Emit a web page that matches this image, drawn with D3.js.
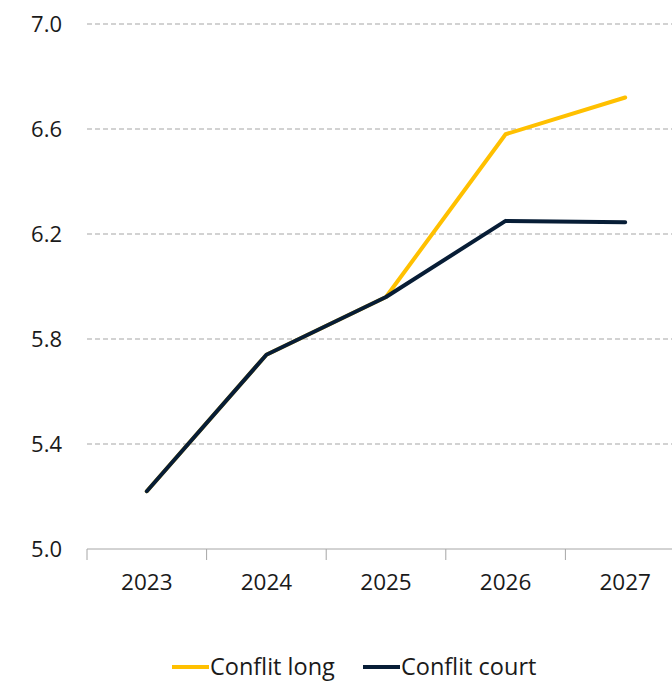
<!DOCTYPE html>
<html>
<head>
<meta charset="utf-8">
<script src="https://cdn.jsdelivr.net/npm/d3@7"></script>
<style>
  html, body { margin: 0; padding: 0; background: #fff; }
  svg text { font-family: "Open Sans", sans-serif; fill: #1a1a1a; }
</style>
</head>
<body>
<div id="canvas"></div>
<script>
"use strict"

let years = ["2023", "2024", "2025", "2026", "2027"]
let conflitLong = [5.22, 5.74, 5.96, 6.58, 6.72]
let conflitCourt = [5.22, 5.74, 5.96, 6.25, 6.245]
let yTicks = [5.0, 5.4, 5.8, 6.2, 6.6, 7.0]
let seriesNames = ["Conflit long", "Conflit court"]
let seriesColors = ["#ffc000", "#071d36"]

let svgWidth = 672
let svgHeight = 681

let margin = { top: 24, left: 87, bottom: 132 }
let plotBottom = svgHeight - margin.bottom

let svg = d3.select("#canvas")
    .append("svg")
    .attr("width", svgWidth)
    .attr("height", svgHeight)

let xScale = d3.scaleBand()
    .domain(years)
    .range([margin.left, margin.left + 5 * 119.6])

let yScale = d3.scaleLinear()
    .domain([5.0, 7.0])
    .range([plotBottom, margin.top])

// gridlines
svg.append("g")
    .selectAll("line")
    .data(yTicks.filter(d => d > 5.0))
    .join("line")
    .attr("x1", margin.left)
    .attr("x2", svgWidth)
    .attr("y1", d => yScale(d))
    .attr("y2", d => yScale(d))
    .attr("stroke", "#a6a6a6")
    .attr("stroke-width", 1.2)
    .attr("stroke-dasharray", "5,3")

// y labels
let yAxis = svg.append("g")
    .attr("transform", `translate(${margin.left},0)`)
    .call(d3.axisLeft(yScale).tickValues(yTicks).tickFormat(d3.format(".1f")).tickSize(0).tickPadding(25))
yAxis.select(".domain").remove()
yAxis.selectAll("text")
    .attr("x", -25)
    .attr("text-anchor", "end")
    .style("font-size", "22px")
    .style("font-family", "'Open Sans', sans-serif")
    .attr("fill", "#1a1a1a")

// x axis
let xAxis = svg.append("g")
    .attr("transform", `translate(0,${plotBottom})`)
    .call(d3.axisBottom(xScale).tickSize(0).tickPadding(25))
xAxis.select(".domain")
    .attr("d", `M${margin.left},0H${svgWidth}`)
    .attr("stroke", "#a6a6a6")
xAxis.selectAll("text")
    .style("font-size", "22.5px")
    .style("font-family", "'Open Sans', sans-serif")
    .attr("fill", "#1a1a1a")

svg.append("g")
    .selectAll("line")
    .data(years)
    .join("line")
    .attr("x1", d => xScale(d))
    .attr("x2", d => xScale(d))
    .attr("y1", plotBottom)
    .attr("y2", plotBottom + 11)
    .attr("stroke", "#a6a6a6")

// lines
let line = d3.line()
    .x((d, i) => xScale(years[i]) + xScale.bandwidth() / 2)
    .y(d => yScale(d))

let series = [conflitLong, conflitCourt]
svg.append("g")
    .selectAll("path")
    .data(series)
    .join("path")
    .attr("d", d => line(d))
    .attr("fill", "none")
    .attr("stroke", (d, i) => seriesColors[i])
    .attr("stroke-width", 4)
    .attr("stroke-linecap", "round")
    .attr("stroke-linejoin", "round")

// legend
let legendX = [172, 363]
let legend = svg.append("g")
    .selectAll("g")
    .data(seriesNames)
    .join("g")
    .attr("transform", (d, i) => `translate(${legendX[i]},667)`)

legend.append("line")
    .attr("x1", 0)
    .attr("x2", 37)
    .attr("stroke", (d, i) => seriesColors[i])
    .attr("stroke-width", 4)

legend.append("text")
    .attr("x", 38)
    .attr("dy", "0.35em")
    .style("font-size", "23.5px")
    .text(d => d)
</script>
</body>
</html>
